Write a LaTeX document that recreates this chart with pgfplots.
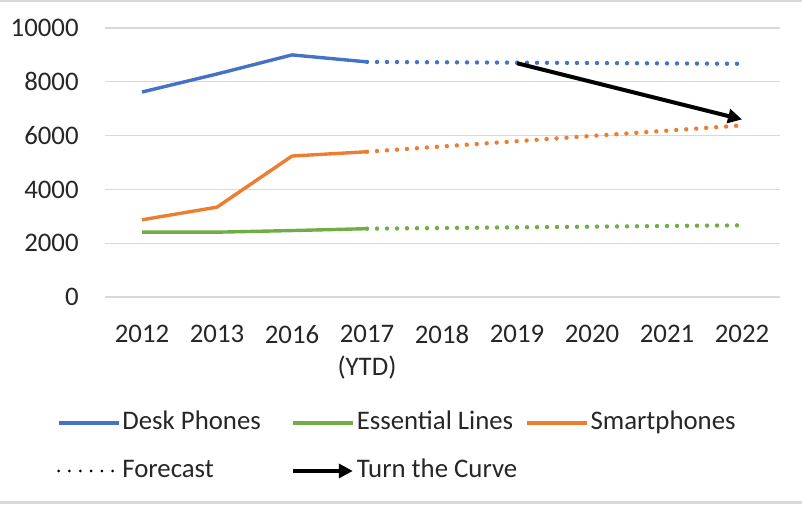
\documentclass[border=0pt]{standalone}
\usepackage{fontspec}
\setmainfont{Carlito}
\usepackage{pgfplots}
\pgfplotsset{compat=1.18}
\usetikzlibrary{arrows.meta}
\definecolor{cblue}{HTML}{4472C4}
\definecolor{cgreen}{HTML}{70AD47}
\definecolor{corange}{HTML}{ED7D31}
\definecolor{gridgray}{HTML}{D9D9D9}
\definecolor{txt}{HTML}{262626}
\begin{document}
\fontsize{13.4}{16.5}\selectfont
\begin{tikzpicture}
\useasboundingbox (-52.25pt,-103.5pt) rectangle (348.75pt,148.5pt);
\draw[gridgray, line width=1pt] (-52.25pt,147.8pt) -- (348.75pt,147.8pt);
\draw[gridgray, line width=1.5pt] (-52.25pt,-102.6pt) -- (348.75pt,-102.6pt);
\begin{axis}[
  scale only axis, width=337.5pt, height=134.5pt,
  at={(0pt,0pt)}, anchor=south west,
  xmin=-0.5, xmax=8.5, ymin=0, ymax=10000,
  axis line style={draw=none}, tick style={draw=none},
  ymajorgrids, grid style={line width=0.6pt, color=gridgray},
  ytick={0,2000,4000,6000,8000,10000},
  xtick={0,1,2,3,4,5,6,7,8},
  xticklabels={2012,2013,2016,{2017\\(YTD)},2018,2019,2020,2021,2022},
  scaled y ticks=false,
  /pgf/number format/assume math mode=true,
  /pgf/number format/set thousands separator={},
  tick label style={font=\fontsize{13.4}{16.5}\selectfont, text=txt},
  yticklabel style={anchor=east, inner sep=0pt, xshift=-12.75pt},
  xticklabel style={anchor=north, inner sep=0pt, align=center, yshift=-14pt},
  legend columns=3,
  legend image code/.code={\draw[#1] (0pt,0pt) -- (30pt,0pt);},
  legend style={at={(axis description cs:-0.0704,-0.420)}, anchor=north west,
    draw=none, fill=none, column sep=0pt, row sep=11pt, inner sep=0pt, outer sep=0pt,
    font=\fontsize{13.4}{16.5}\selectfont, text=txt,
    nodes={inner sep=0pt, anchor=west, text height=10pt, text depth=3pt}},
]
\addplot[cblue, line width=1.7pt, line join=round] coordinates {(0,7620) (1,8290) (2,9000) (3,8740)};
\addlegendentry{\makebox[85.2pt][l]{\hskip1pt Desk Phones}}
\addplot[cgreen, line width=1.7pt, line join=round] coordinates {(0,2410) (1,2410) (2,2470) (3,2540)};
\addlegendentry{\makebox[85.2pt][l]{\hskip1pt Essential Lines}}
\addplot[corange, line width=1.7pt, line join=round] coordinates {(0,2870) (1,3340) (2,5240) (3,5400)};
\addlegendentry{\makebox[85.2pt][l]{\hskip1pt Smartphones}}
\addplot[cblue, forget plot, line width=2.2pt, line cap=round, dash pattern=on 0pt off 5pt] coordinates {(3,8740) (8,8670)};
\addplot[cgreen, forget plot, line width=2.2pt, line cap=round, dash pattern=on 0pt off 5pt] coordinates {(3,2540) (8,2665)};
\addplot[corange, forget plot, line width=2.2pt, line cap=round, dash pattern=on 0pt off 5pt] coordinates {(3,5400) (8,6380)};
\addlegendimage{black, line width=1.5pt, line cap=round, dash pattern=on 0pt off 5.4pt}
\addlegendentry{\makebox[85.2pt][l]{\hskip1pt Forecast}}
\addplot[black, line width=2pt, -{Triangle[length=7pt, width=7pt]}] coordinates {(5,8690) (8,6600)};
\addlegendentry{\makebox[85.2pt][l]{\hskip1pt Turn the Curve}}
\end{axis}
\end{tikzpicture}
\end{document}
